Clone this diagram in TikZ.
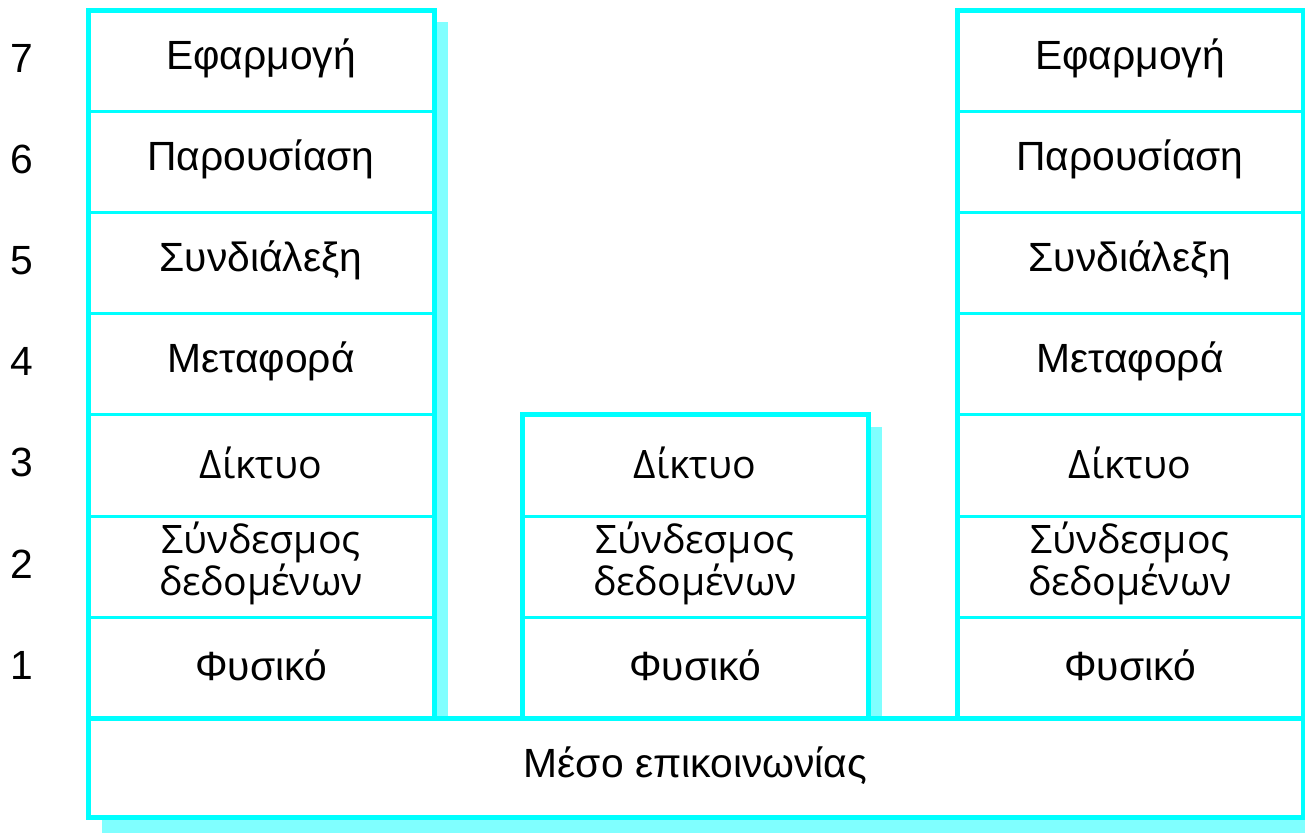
\documentclass[tikz,border=0pt]{standalone}
\usepackage{fontspec}
\setmainfont{Liberation Sans}
\newfontfamily\opensans{Open Sans}
\definecolor{layercyan}{RGB}{0,255,255}
\definecolor{shadowcyan}{RGB}{128,255,255}
\tikzset{
  stackframe/.style={draw=layercyan, fill=white, line width=3.75pt},
  divider/.style={draw=layercyan, line width=2.25pt},
  shadowbox/.style={fill=shadowcyan},
  layer/.style={inner sep=0.75pt, align=center, font=\fontsize{30.6}{31.5}\selectfont},
  layeros/.style={layer, font=\opensans\fontsize{29.4}{31.5}\selectfont},
}

\begin{document}
\begin{tikzpicture}[x=0.75pt,y=0.75pt,yscale=-1,xscale=1]
        \useasboundingbox (0,0) rectangle (1305,832);
        \clip (0,0) rectangle (1305,832);

        % shadows
        \fill[shadowbox] (102,22) rectangle (448,732);
        \fill[shadowbox] (536,427) rectangle (882,732);
        \fill[shadowbox] (971,22) rectangle (1317,732);
        \fill[shadowbox] (102,732) rectangle (1317,840);

        % stacks
        \draw[stackframe] (88,10) rectangle (434,718);
        \draw[stackframe] (522,414.8) rectangle (868,718);
        \draw[stackframe] (957,10) rectangle (1303,718);
        % medium
        \draw[stackframe] (88,718) rectangle (1303,817);

        % layer borders
        \foreach \y in {111.2,212.4,313.6,414.8,516,617.2} {
          \draw[divider] (88,\y) -- (434,\y);
          \draw[divider] (957,\y) -- (1303,\y);
        }
        \foreach \y in {516,617.2}
          \draw[divider] (522,\y) -- (868,\y);

        % upper layers, end systems only
        \foreach \s/\cx in {L/261,R/1130} {
          \node[layer] (\s7) at (\cx,58) {Εφαρμογή};
          \node[layer] (\s6) at (\cx,159.2) {Παρουσίαση};
          \node[layer] (\s5) at (\cx,260.4) {Συνδιάλεξη};
          \node[layer] (\s4) at (\cx,361.6) {Μεταφορά};
        }
        % lower layers, all three
        \foreach \s/\cx in {L/261,M/695,R/1130} {
          \node[layeros] (\s3) at (\cx,463) {Δίκτυο};
          \node[layeros] (\s2) at (\cx,563.5) {Σύνδεσμος\\δεδομένων};
          \node[layer] (\s1) at (\cx,665.2) {Φυσικό};
        }

        % layer numbers
        \foreach \n in {1,...,7}
          \node[layer] (num\n) at (22,{7.5+101.2*(7.5-\n)}) {\n};

        \node[layer] (medium) at (695.5,766) {Μέσο επικοινωνίας};
\end{tikzpicture}
\end{document}
